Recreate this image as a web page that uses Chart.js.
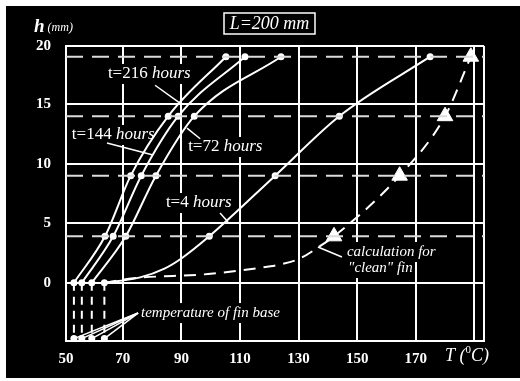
<!DOCTYPE html>
<html>
<head>
<meta charset="utf-8">
<script src="https://cdn.jsdelivr.net/npm/chart.js@4"></script>
<style>
  html, body { margin: 0; padding: 0; background: #fff; }
  #box { width: 520px; height: 381px; }
</style>
</head>
<body>
<div id="box"><canvas id="finChart" width="520" height="381"></canvas></div>
<script>
// measured heights (mm) along the fin
const levels = [0, 3.9, 9, 14, 19];
// temperatures at those heights for each exposure time
const t216T = [53.3, 63.9, 72.7, 85.5, 105.2];
const t144T = [56.0, 66.7, 76.3, 88.9, 111.7];
const t72T = [59.4, 71.0, 81.3, 94.4, 124.0];
// t=4 hours curve (dots only at the measured levels)
const t4T = [63.7, 75.9, 84.4, 90.1, 99.5, 122.0, 143.9, 174.9];
const t4H = [0, 0.45, 1.21, 2.06, 3.9, 9, 14, 19];
// calculation for "clean" fin (triangles at the measured levels)
const cleanT = [63.7, 73.5, 99.1, 116.8, 124.3, 130.5, 136.6, 142.1, 164.5, 180.0, 188.8];
const cleanH = [0, 0.37, 0.73, 1.25, 1.56, 2.04, 2.96, 3.9, 9, 14, 19];
// fin base temperatures
const baseT = [53.3, 56.0, 59.4, 63.7];
const baseLow = -4.7;
// axes
const xTicks = [50.6, 70, 90, 110, 130, 150, 170, 190, 193.3];
const xLabels = ['50', '70', '90', '110', '130', '150', '170', '', ''];
const yTicks = [-4.9, 0, 5, 10, 15, 19.9];
const yLabels = ['', '0', '5', '10', '15', '20'];

const SERIF = '"Liberation Serif", "DejaVu Serif", serif';

function pts(xs, ys) {
    return xs.map((x, i) => ({ x: x, y: ys[i] }));
}

function isLevel(v) {
    return levels.some(l => Math.abs(l - v) < 1e-6);
}

const datasets = [];

// dashed horizontal reference lines
levels.slice(1).forEach(h => {
    datasets.push({
        data: [{ x: 50.6, y: h }, { x: 193.3, y: h }],
        showLine: true, borderColor: '#dcdcdc', borderWidth: 2,
        borderDash: [17, 9], pointRadius: 0
    });
});

// vertical dashed lines down to the base temperature dots
baseT.forEach(t => {
    datasets.push({
        data: [{ x: t, y: 0 }, { x: t, y: baseLow }],
        showLine: true, borderColor: '#fff', borderWidth: 2,
        borderDash: [8, 6],
        pointRadius: [0, 3.5], pointBackgroundColor: '#fff', pointBorderWidth: 0
    });
});

// experimental curves
[t216T, t144T, t72T].forEach(arr => {
    datasets.push({
        data: pts(arr, levels),
        showLine: true, borderColor: '#fff', borderWidth: 2,
        cubicInterpolationMode: 'monotone',
        pointRadius: 3.5, pointBackgroundColor: '#fff', pointBorderWidth: 0
    });
});

datasets.push({
    data: pts(t4T, t4H),
    showLine: true, borderColor: '#fff', borderWidth: 2,
    cubicInterpolationMode: 'monotone',
    pointRadius: t4H.map(h => isLevel(h) ? 3.5 : 0),
    pointBackgroundColor: '#fff', pointBorderWidth: 0
});

// clean fin calculation
datasets.push({
    data: pts(cleanT, cleanH),
    showLine: true, borderColor: '#fff', borderWidth: 2,
    borderDash: [12, 8],
    cubicInterpolationMode: 'monotone',
    pointStyle: 'triangle',
    pointRadius: cleanH.map(h => (h > 0 && isLevel(h)) ? 9 : 0),
    pointBackgroundColor: '#fff', pointBorderColor: '#fff', pointBorderWidth: 1
});

function drawParts(ctx, parts, x, y, bg) {
    let w = 0;
    parts.forEach(p => { ctx.font = p[1]; w += ctx.measureText(p[0]).width; });
    if (bg) {
        ctx.fillStyle = '#000';
        ctx.fillRect(x - 2, y - 10, w + 4, 20);
    }
    ctx.fillStyle = '#fff';
    ctx.textBaseline = 'middle';
    ctx.textAlign = 'left';
    let cx = x;
    parts.forEach(p => {
        ctx.font = p[1];
        ctx.fillText(p[0], cx, y + (p[2] || 0));
        cx += ctx.measureText(p[0]).width;
    });
}

const decorPlugin = {
    id: 'decor',
    beforeDraw(chart) {
        const ctx = chart.ctx;
        ctx.save();
        ctx.fillStyle = '#000';
        ctx.fillRect(6, 6, 514, 372);
        ctx.restore();
    },
    beforeDatasetsDraw(chart) {
        const ctx = chart.ctx;
        const xs = chart.scales.x, ys = chart.scales.y;
        const px = v => xs.getPixelForValue(v);
        const py = v => ys.getPixelForValue(v);
        const reg = '17px ' + SERIF;
        const ita = 'italic 17px ' + SERIF;
        const sm = 'italic 15px ' + SERIF;
        ctx.save();

        // curve labels
        drawParts(ctx, [['t=216 ', reg], ['hours', ita]], px(64.9), py(17.55), true);
        drawParts(ctx, [['t=144 ', reg], ['hours', ita]], px(52.6), py(12.42), true);
        drawParts(ctx, [['t=72 ', reg], ['hours', ita]], px(92.3), py(11.41), true);
        drawParts(ctx, [['t=4 ', reg], ['hours', ita]], px(84.7), py(6.7), true);
        drawParts(ctx, [['calculation for', sm]], px(146.5), py(2.58), true);
        drawParts(ctx, [['"clean" fin', sm]], px(146.9), py(1.24), true);
        drawParts(ctx, [['temperature of fin base', sm]], px(76.2), py(-2.55), true);

        // pointer lines
        ctx.strokeStyle = '#fff';
        ctx.lineWidth = 1.5;
        const ptr = [
            [81.0, 16.6, 89.5, 15.1],
            [64.6, 11.75, 80.3, 10.74],
            [91.9, 13.0, 96.4, 12.1],
            [103.2, 5.86, 105.9, 5.1],
            [136.6, 3.0, 144.8, 2.16]
        ];
        baseT.forEach(t => ptr.push([75.2, -2.55, t, baseLow]));
        ptr.forEach(p => {
            ctx.beginPath();
            ctx.moveTo(px(p[0]), py(p[1]));
            ctx.lineTo(px(p[2]), py(p[3]));
            ctx.stroke();
        });

        // axis titles
        const ca = chart.chartArea;
        drawParts(ctx, [['h', 'italic bold 19px ' + SERIF], [' (mm)', 'italic 12px ' + SERIF, 1]], 34, 27, false);
        drawParts(ctx, [['T (', 'italic 18px ' + SERIF], ['0', '11px ' + SERIF, -6], ['C)', 'italic 18px ' + SERIF]],
            ca.right - 39, 356, false);

        // title box
        ctx.strokeStyle = '#fff';
        ctx.lineWidth = 1.5;
        ctx.strokeRect(224, 13, 91, 21);
        ctx.font = 'italic 18px ' + SERIF;
        ctx.textAlign = 'center';
        ctx.textBaseline = 'middle';
        ctx.fillStyle = '#fff';
        ctx.fillText('L=200 mm', 269.5, 24);
        ctx.restore();
    }
};

new Chart(document.getElementById('finChart'), {
    type: 'scatter',
    data: { datasets: datasets },
    options: {
        responsive: false,
        animation: false,
        layout: { padding: { left: 6, top: 46, right: 36, bottom: 0 } },
        plugins: { legend: { display: false }, tooltip: { enabled: false } },
        elements: { line: { fill: false } },
        datasets: { scatter: { clip: false } },
        scales: {
            x: {
                type: 'linear', min: 50.6, max: 193.3,
                afterBuildTicks: s => { s.ticks = xTicks.map(v => ({ value: v })); },
                afterFit: s => { s.height = 40; },
                ticks: {
                    color: '#fff', padding: 9,
                    font: { family: SERIF, size: 15, weight: 'bold' },
                    callback: (v, i) => xLabels[i]
                },
                grid: { color: '#fff', lineWidth: 2, drawTicks: false },
                border: { color: '#fff', width: 2 }
            },
            y: {
                type: 'linear', min: -4.9, max: 19.9,
                afterBuildTicks: s => { s.ticks = yTicks.map(v => ({ value: v })); },
                afterFit: s => { s.width = 60; },
                ticks: {
                    color: '#fff', padding: 15,
                    font: { family: SERIF, size: 15, weight: 'bold' },
                    callback: (v, i) => yLabels[i]
                },
                grid: { color: '#fff', lineWidth: 2, drawTicks: false },
                border: { color: '#fff', width: 2 }
            }
        }
    },
    plugins: [decorPlugin]
});
</script>
</body>
</html>
